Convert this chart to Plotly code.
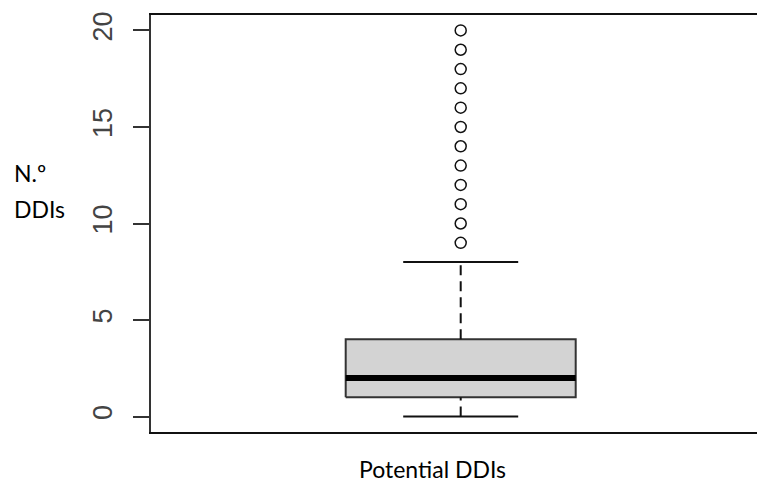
import plotly.graph_objects as go

# ---- data ----
category = "Potential DDIs"
y_label_lines = ["N.º", "DDIs"]
q1 = 1
median = 2
q3 = 4
whisker_low = 0
whisker_high = 8
outliers = [9, 10, 11, 12, 13, 14, 15, 16, 17, 18, 19, 20]
y_ticks = [0, 5, 10, 15, 20]

# ---- style ----
center = 1.0
box_half = 0.4
cap_half = 0.2
W, H = 757, 483
ml, mr, mt, mb = 151, 0, 15, 483 - 432

fig = go.Figure()

# box body
fig.add_trace(go.Scatter(
    x=[center - box_half, center + box_half, center + box_half, center - box_half, center - box_half],
    y=[q1, q1, q3, q3, q1],
    mode="lines", fill="toself", fillcolor="#d3d3d3",
    line=dict(color="#333333", width=2), hoverinfo="skip", showlegend=False))

# whiskers (dashed)
for a, b in [(q3, whisker_high), (whisker_low, q1)]:
    fig.add_trace(go.Scatter(
        x=[center, center], y=[a, b], mode="lines",
        line=dict(color="#111111", width=2, dash="10px,6px"),
        hoverinfo="skip", showlegend=False))

# whisker caps
for v in [whisker_low, whisker_high]:
    fig.add_trace(go.Scatter(
        x=[center - cap_half, center + cap_half], y=[v, v], mode="lines",
        line=dict(color="#111111", width=2), hoverinfo="skip", showlegend=False))

# median
fig.add_trace(go.Scatter(
    x=[center - box_half, center + box_half], y=[median, median], mode="lines",
    line=dict(color="#000000", width=6), hoverinfo="skip", showlegend=False))

# outliers
fig.add_trace(go.Scatter(
    x=[center] * len(outliers), y=outliers, mode="markers",
    marker=dict(symbol="circle-open", size=11, color="#111111", line=dict(width=1.5, color="#111111")),
    hoverinfo="skip", showlegend=False))

# x range so that the centre lands where the reference has it
px_per_unit = 287.5
center_px = 460.7
plot_w = W - ml - mr
x_left = center - (center_px - ml) / px_per_unit
x_right = x_left + plot_w / px_per_unit

fig.update_layout(
    width=W, height=H,
    margin=dict(l=ml, r=mr, t=mt, b=mb),
    plot_bgcolor="white", paper_bgcolor="white",
    xaxis=dict(range=[x_left, x_right], showgrid=False, zeroline=False,
               showticklabels=False, ticks="", showline=True, mirror=True,
               linecolor="#111111", linewidth=2),
    yaxis=dict(range=[-0.8, 20.8], showgrid=False, zeroline=False,
               tickvals=y_ticks, ticktext=[str(t) for t in y_ticks],
               tickangle=-90, ticks="outside", ticklen=16, tickwidth=2,
               tickcolor="#333333", showline=True, mirror=False,
               linecolor="#333333", linewidth=2,
               tickfont=dict(family="Liberation Sans, Arial", size=27, color="#444444"),
               ticklabelstandoff=10),
)

plot_h = H - mt - mb
def px_x(p):
    return (p - ml) / plot_w
def px_y(p):
    return (H - mb - p) / plot_h

label_font = dict(family="Lato, Noto Sans", size=23, color="#000000")
fig.add_annotation(text=y_label_lines[0], xref="paper", yref="paper",
                   x=px_x(12), y=px_y(173), xanchor="left", yanchor="middle",
                   showarrow=False, font=label_font)
fig.add_annotation(text=y_label_lines[1], xref="paper", yref="paper",
                   x=px_x(12), y=px_y(209), xanchor="left", yanchor="middle",
                   showarrow=False, font=label_font)
fig.add_annotation(text=category, xref="paper", yref="paper",
                   x=px_x(432), y=px_y(469), xanchor="center", yanchor="middle",
                   showarrow=False, font=label_font)

fig.write_html("out.html",
               config={"displayModeBar": False},
               post_script="document.body.style.margin='0';document.body.style.overflow='hidden';")
